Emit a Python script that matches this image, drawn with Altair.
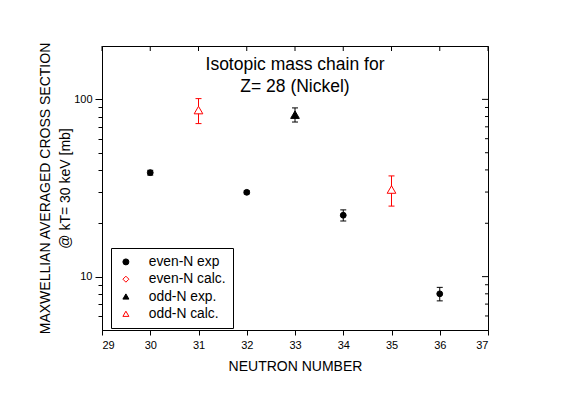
import altair as alt
import pandas as pd

# ---- data ----
series_names = ["even-N exp", "even-N calc.", "odd-N exp.", "odd-N calc."]

even_exp_N = [30, 32, 34, 36]
even_exp_val = [38.6, 29.9, 22.2, 8.0]
even_exp_err = [1.2, 0.6, 1.6, 0.7]

odd_exp_N = [33]
odd_exp_val = [82.0]
odd_exp_err = [7.5]

odd_calc_N = [31, 35]
odd_calc_val = [87.0, 31.0]
odd_calc_err = [14.0, 6.0]

x_ticks = [29, 30, 31, 32, 33, 34, 35, 36, 37]
y_major = [10, 100]
y_minor = [6, 7, 8, 9, 20, 30, 40, 50, 60, 70, 80, 90]

shape_range = ["circle", "diamond", "triangle-up", "triangle-up"]
fill_range = ["black", "white", "black", "white"]
stroke_range = ["black", "red", "black", "red"]

W, H = 386, 284
FONT = "Liberation Sans"

rows = []
for name, Ns, vals, errs in [
    ("even-N exp", even_exp_N, even_exp_val, even_exp_err),
    ("odd-N exp.", odd_exp_N, odd_exp_val, odd_exp_err),
    ("odd-N calc.", odd_calc_N, odd_calc_val, odd_calc_err),
]:
    for n, v, e in zip(Ns, vals, errs):
        rows.append({"series": name, "N": n, "val": v, "lo": v - e, "hi": v + e,
                     "calc": name.endswith("calc."), "odd": name.startswith("odd")})
df = pd.DataFrame(rows)

xscale = alt.Scale(domain=[29, 37], nice=False, zero=False)
yscale = alt.Scale(type="log", domain=[5, 200], nice=False)

base = alt.Chart(df)

x_enc = alt.X(
    "N:Q", scale=xscale,
    axis=alt.Axis(
        values=x_ticks, format="d", grid=False, tickSize=5, labelPadding=4,
        title="NEUTRON NUMBER", titlePadding=9,
    ),
)
y_enc = alt.Y(
    "val:Q", scale=yscale,
    axis=alt.Axis(
        values=y_major + y_minor, format="d", grid=False,
        labelExpr="datum.value == 10 || datum.value == 100 ? datum.label : ''",
        tickSize={"condition": {"test": "datum.value == 10 || datum.value == 100", "value": 7}, "value": 4},
        labelPadding=3,
        title=["MAXWELLIAN AVERAGED CROSS SECTION", "@ kT= 30 keV [mb]"],
        titlePadding=1, titleLineHeight=20,
    ),
)


def errbars(is_calc, color):
    b = base.transform_filter(alt.datum.calc == is_calc)
    bar = b.mark_rule(strokeWidth=1, color=color).encode(
        x=alt.X("N:Q", scale=xscale), y=alt.Y("lo:Q", scale=yscale), y2="hi:Q"
    )
    lo = b.mark_tick(orient="horizontal", size=6, thickness=1, color=color, opacity=1).encode(
        x=alt.X("N:Q", scale=xscale), y=alt.Y("lo:Q", scale=yscale)
    )
    hi = b.mark_tick(orient="horizontal", size=6, thickness=1, color=color, opacity=1).encode(
        x=alt.X("N:Q", scale=xscale), y=alt.Y("hi:Q", scale=yscale)
    )
    return [bar, lo, hi]


leg = alt.Legend(title=None, orient="none", legendX=9, legendY=202)


def point_layer(is_odd, size):
    return base.transform_filter(alt.datum.odd == is_odd).mark_point(
        opacity=1, strokeWidth=1, size=size
    ).encode(
        x=x_enc,
        y=y_enc,
        shape=alt.Shape("series:N", scale=alt.Scale(domain=series_names, range=shape_range), legend=leg),
        fill=alt.Fill("series:N", scale=alt.Scale(domain=series_names, range=fill_range), legend=leg),
        stroke=alt.Stroke("series:N", scale=alt.Scale(domain=series_names, range=stroke_range), legend=leg),
    )


# inward ticks on top and right frame edges
top_df = pd.DataFrame({"t": x_ticks})
top_ticks = alt.Chart(top_df).mark_rule(color="black", strokeWidth=1).encode(
    x=alt.X("t:Q", scale=xscale), y=alt.value(0), y2=alt.value(5)
)
rmaj_df = pd.DataFrame({"t": y_major})
rmin_df = pd.DataFrame({"t": y_minor})
right_major = alt.Chart(rmaj_df).mark_rule(color="black", strokeWidth=1).encode(
    y=alt.Y("t:Q", scale=yscale), x=alt.value(W), x2=alt.value(W - 6)
)
right_minor = alt.Chart(rmin_df).mark_rule(color="black", strokeWidth=1).encode(
    y=alt.Y("t:Q", scale=yscale), x=alt.value(W), x2=alt.value(W - 3)
)

layers = (errbars(False, "black") + errbars(True, "red")
          + [top_ticks, right_major, right_minor, point_layer(False, 34), point_layer(True, 75)])

chart = alt.layer(*layers).properties(
    width=W, height=H,
    autosize=alt.AutoSizeParams(type="none"),
    padding={"left": 94, "top": 38, "right": 71, "bottom": 57},
    title=alt.TitleParams(
        text=["Isotopic mass chain for", "Z= 28 (Nickel)"],
        anchor="middle", frame="group", fontSize=17.5, font=FONT, fontWeight="normal",
        lineHeight=22, offset=0, dy=54, baseline="top", color="black",
    ),
).configure_view(
    stroke="black", strokeWidth=1
).configure_axis(
    domainColor="black", tickColor="black", labelColor="black", titleColor="black",
    labelFont=FONT, titleFont=FONT, labelFontSize=11, titleFontSize=14,
    titleFontWeight="normal",
).configure_legend(
    strokeColor="black",
    padding=7, labelFont=FONT, labelFontSize=13.8, labelColor="black",
    symbolSize=36, rowPadding=2.3, labelOffset=16, symbolOffset=1, symbolStrokeWidth=1,
)

chart.save("out.html", embed_options={"renderer": "svg", "actions": False})
